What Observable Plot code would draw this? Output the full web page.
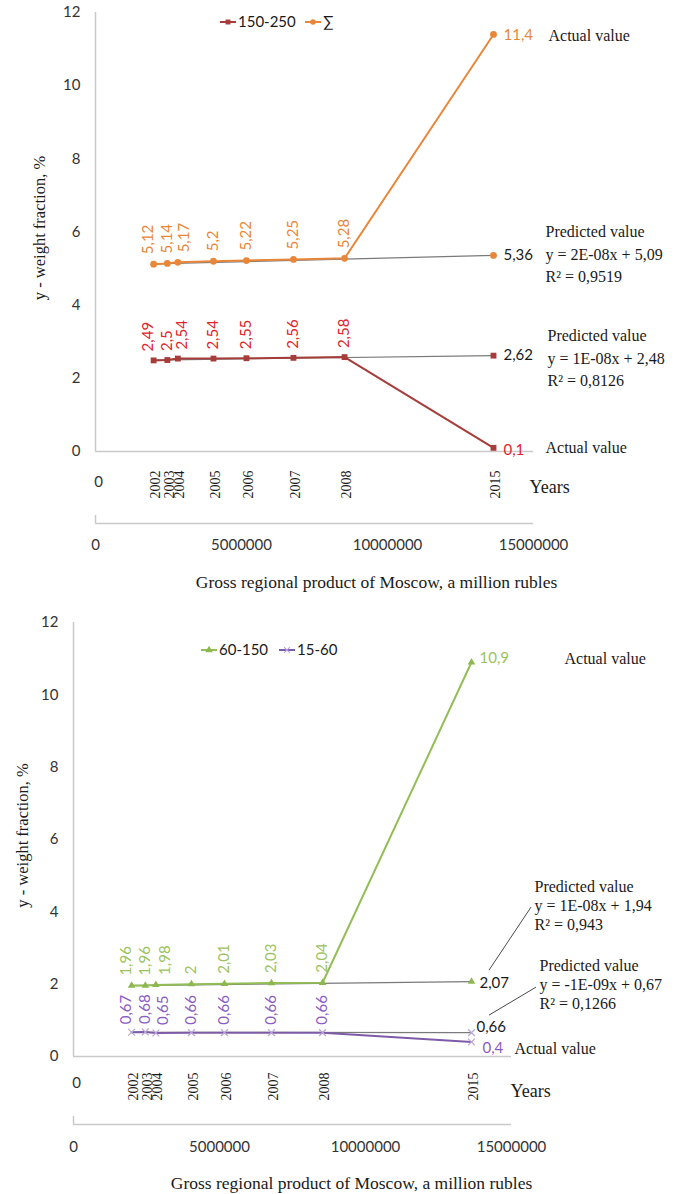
<!DOCTYPE html>
<html>
<head>
<meta charset="utf-8">
<script src="https://cdn.jsdelivr.net/npm/d3@7"></script>
<script src="https://cdn.jsdelivr.net/npm/@observablehq/plot@0.6"></script>
<style>
  body { margin: 0; background: #fff; }
  #wrap { position: relative; width: 681px; height: 1194px; overflow: hidden; background: #fff; }
  #wrap svg { position: absolute; left: 0; }
</style>
</head>
<body>
<div id="wrap"></div>
<script>
// ---------------- data ----------------
const years = [2002, 2003, 2004, 2005, 2006, 2007, 2008, 2015];
const grp = [1990000, 2460000, 2820000, 4040000, 5170000, 6780000, 8530000, 13630000]; // million rubles
const sumValues = [5.12, 5.14, 5.17, 5.2, 5.22, 5.25, 5.28, 11.4];
const s150Values = [2.49, 2.5, 2.54, 2.54, 2.55, 2.56, 2.58, 0.1];
const s60Values = [1.96, 1.96, 1.98, 2, 2.01, 2.03, 2.04, 10.9];
const s15Values = [0.67, 0.68, 0.65, 0.66, 0.66, 0.66, 0.66, 0.4];
const predicted = {sum: 5.36, s150: 2.62, s60: 2.07, s15: 0.66};
const trendStart = {sum: 5.13, s150: 2.50, s60: 1.96, s15: 0.67};
const seriesNames = {sum: "∑", s150: "150-250", s60: "60-150", s15: "15-60"};
const notes = {
  sum: ["Predicted value", "y = 2E-08x + 5,09", "R² = 0,9519"],
  s150: ["Predicted value", "y = 1E-08x + 2,48", "R² = 0,8126"],
  s60: ["Predicted value", "y = 1E-08x + 1,94", "R² = 0,943"],
  s15: ["Predicted value", "y = -1E-09x + 0,67", "R² = 0,1266"]
};
const actualText = "Actual value";
const yTicks = [0, 2, 4, 6, 8, 10, 12];
const xTicks = [0, 5000000, 10000000, 15000000];
const xTitle = "Gross regional product of Moscow, a million rubles";
const yTitle = "y - weight fraction, %";
const yearsTitle = "Years";

// ---------------- styles ----------------
const SANS = "Lato, 'Open Sans', 'DejaVu Sans', sans-serif";
const SERIF = "'Liberation Serif', 'Times New Roman', serif";
const INK = "#1a1a1a";
const AXIS = "#c9c9c9";
const fmt = d => String(d).replace(".", ",");

const S = {
  sum:  {key: "sum",  values: sumValues,  line: "#E8873A", marker: "#E8873A", label: "#E8873A", symbol: "circle",   r: 3.4},
  s150: {key: "s150", values: s150Values, line: "#A63D3A", marker: "#A63D3A", label: "#E0242B", symbol: "square",   r: 3.3},
  s60:  {key: "s60",  values: s60Values,  line: "#93BE55", marker: "#8DB84F", label: "#9BC25E", symbol: "triangle", r: 2.8},
  s15:  {key: "s15",  values: s15Values,  line: "#7E5BA8", marker: "#B9A6D6", label: "#8A5CC4", symbol: "times",    r: 3.2}
};

function seriesMarks(s, L) {
  const data = years.map((yr, i) => ({i, year: yr, x: grp[i], y: s.values[i]}));
  const hist = data.slice(0, 7);
  const last = [data[7]];
  const pred = [{x: grp[7], y: predicted[s.key]}];
  const trend = [{x: grp[0], y: trendStart[s.key]}, {x: grp[7], y: predicted[s.key]}];
  const isStroke = s.symbol === "times";
  const dot = d => Plot.dot(d, {
    x: "x", y: "y", symbol: s.symbol, r: s.r,
    fill: isStroke ? "none" : s.marker, stroke: isStroke ? s.marker : "none", strokeWidth: 1.2
  });
  const lab = (idx, dx) => Plot.text(hist.filter(d => idx.includes(d.i)), {
    x: "x", y: "y", text: d => fmt(d.y), rotate: -90, textAnchor: "start", lineAnchor: "middle",
    dx, dy: L.ldy, fill: s.label, fontSize: 15, fontFamily: SANS
  });
  return [
    Plot.line(trend, {x: "x", y: "y", stroke: "#7a7a7a", strokeWidth: 1.2}),
    Plot.line(data, {x: "x", y: "y", stroke: s.line, strokeWidth: 2}),
    dot(data), dot(pred),
    lab([0], L.d0), lab([1, 3, 4, 5, 6], 0), lab([2], L.d2),
    Plot.text(last, {x: "x", y: "y", text: d => fmt(d.y), textAnchor: "start", lineAnchor: "middle",
      dx: L.ax, dy: L.ay, fill: s.label, fontSize: 15, fontFamily: SANS}),
    Plot.text(last, {x: "x", y: "y", text: () => actualText, textAnchor: "start", lineAnchor: "middle",
      dx: L.atx, dy: L.aty, fill: INK, fontSize: 16, fontFamily: SERIF}),
    Plot.text(pred, {x: "x", y: "y", text: d => fmt(d.y), textAnchor: "start", lineAnchor: "middle",
      dx: L.px, dy: L.py, fill: INK, fontSize: 15, fontFamily: SANS}),
    Plot.text(pred, {x: "x", y: "y", text: () => notes[s.key].join("\n"), textAnchor: "start", lineAnchor: "middle",
      lineHeight: L.lh, dx: L.nx, dy: L.ny, fill: INK, fontSize: 16, fontFamily: SERIF})
  ];
}

const symMap = {circle: d3.symbolCircle, square: d3.symbolSquare, triangle: d3.symbolTriangle, times: d3.symbolTimes};

function legendMark(items, y) {
  return () => {
    const g = d3.create("svg:g");
    for (const it of items) {
      const s = it.s;
      g.append("line").attr("x1", it.x).attr("x2", it.x + 16).attr("y1", y).attr("y2", y)
        .attr("stroke", s.line).attr("stroke-width", 2);
      const stroke = s.symbol === "times";
      g.append("path").attr("d", d3.symbol(symMap[s.symbol], 24)())
        .attr("transform", `translate(${it.x + 8},${y})`)
        .attr("fill", stroke ? "none" : s.marker).attr("stroke", stroke ? s.marker : "none")
        .attr("stroke-width", 1.2);
      g.append("text").attr("x", it.x + 18).attr("y", y).attr("dy", "0.35em")
        .attr("text-anchor", "start")
        .attr("font-family", SANS).attr("font-size", 15).attr("fill", INK)
        .text(seriesNames[s.key]);
    }
    return g.node();
  };
}

function leaderMark(items) {
  return (index, scales) => {
    const g = d3.create("svg:g").attr("stroke", "#4a4a4a").attr("stroke-width", 1);
    for (const it of items) {
      const px = scales.x(grp[7]), py = scales.y(predicted[it.key]);
      g.append("line").attr("x1", px + it.a[0]).attr("y1", py + it.a[1])
        .attr("x2", px + it.b[0]).attr("y2", py + it.b[1]);
    }
    return g.node();
  };
}

function chart(cfg) {
  const yearRows = years.map((yr, i) => ({year: yr, x: grp[i]}));
  return Plot.plot({
    width: 681, height: cfg.height,
    marginLeft: cfg.ml, marginRight: cfg.mr, marginTop: cfg.mt, marginBottom: cfg.mb,
    x: {domain: [0, 15000000], axis: null},
    y: {domain: [0, 12]},
    style: {background: "transparent", overflow: "visible", color: INK},
    marks: [
      Plot.ruleX([0], {stroke: AXIS, strokeWidth: 1.5}),
      Plot.ruleY([0], {stroke: AXIS, strokeWidth: 1.5}),
      Plot.axisY(yTicks, {tickSize: 0, tickPadding: 15, fontSize: 15, fontFamily: SANS, color: "#333", label: null}),
      // years row
      Plot.text(yearRows, {x: "x", y: () => 0, text: d => String(d.year), rotate: -90, textAnchor: "middle",
        lineAnchor: "middle", dx: 2, dy: cfg.yearsDy, fontSize: 14, fontFamily: SERIF, fill: INK}),
      Plot.text([0], {x: d => d, y: () => 0, text: () => "0", dx: 3, dy: cfg.zeroDy, fontSize: 15, fontFamily: SANS, fill: "#333"}),
      Plot.text([yearsTitle], {x: () => 15000000, y: () => 0, text: d => d, textAnchor: "start", lineAnchor: "middle",
        dx: cfg.yearsTx, dy: cfg.yearsTy, fontSize: 18, fontFamily: SERIF, fill: INK}),
      // secondary value axis
      Plot.ruleY([0], {dy: cfg.axDy, stroke: AXIS, strokeWidth: 1.5}),
      Plot.ruleX([0], {y1: 0, y2: 0.22, dy: cfg.axDy, stroke: AXIS, strokeWidth: 1.5}),
      Plot.axisX(xTicks, {anchor: "bottom", tickSize: 0, tickPadding: cfg.xPad, tickFormat: d => String(d),
        fontSize: 15, fontFamily: SANS, color: "#333", label: null}),
      Plot.text([xTitle], {frameAnchor: "bottom", text: d => d, textAnchor: "middle", lineAnchor: "middle",
        dx: cfg.titleDx, dy: cfg.titleDy, fontSize: 17.5, fontFamily: SERIF, fill: INK}),
      Plot.text([yTitle], {frameAnchor: "left", text: d => d, rotate: -90, textAnchor: "middle", lineAnchor: "middle",
        dx: cfg.yTitleDx, dy: cfg.yTitleDy, fontSize: 16.5, fontFamily: SERIF, fill: INK}),
      ...cfg.marks
    ]
  });
}

const topChart = chart({
  height: 605, ml: 95, mr: 148, mt: 12, mb: 154,
  yearsDy: 33, zeroDy: 31, yearsTx: -4, yearsTy: 36, axDy: 72, xPad: 88,
  titleDx: 62, titleDy: 131, yTitleDx: -56, yTitleDy: -4,
  marks: [
    ...seriesMarks(S.sum, {ldy: -10, d0: -5, d2: 6, ax: 10, ay: 1, atx: 55, aty: 1, px: 10, py: 0, nx: 52, ny: -3, lh: 1.4}),
    ...seriesMarks(S.s150, {ldy: -9, d0: -5, d2: 4, ax: 10, ay: 2, atx: 52, aty: 0, px: 10, py: 0, nx: 54, ny: 1, lh: 1.4}),
    legendMark([{x: 220, s: S.s150}, {x: 305, s: S.sum}], 22)
  ]
});
topChart.style.top = "0px";

const bottomChart = chart({
  height: 589, ml: 73, mr: 170, mt: 17, mb: 138,
  yearsDy: 30, zeroDy: 27, yearsTx: -1, yearsTy: 35, axDy: 68, xPad: 85,
  titleDx: 59, titleDy: 127, yTitleDx: -51, yTitleDy: -4,
  marks: [
    ...seriesMarks(S.s60, {ldy: -10, d0: -5, d2: 9, ax: 8, ay: -4, atx: 93, aty: -3, px: 8, py: 2, nx: 63, ny: -77, lh: 1.2}),
    ...seriesMarks(S.s15, {ldy: -8, d0: -5, d2: 7, ax: 11, ay: 6.5, atx: 43, aty: 6.5, px: 5, py: -5, nx: 68, ny: -49, lh: 1.2}),
    leaderMark([{key: "s60", a: [18, -11], b: [60, -74]}, {key: "s15", a: [18, -17], b: [65, -45]}]),
    legendMark([{x: 201, s: S.s60}, {x: 279, s: S.s15}], 45)
  ]
});
bottomChart.style.top = "605px";

const wrap = document.getElementById("wrap");
wrap.appendChild(topChart);
wrap.appendChild(bottomChart);
</script>
</body>
</html>
